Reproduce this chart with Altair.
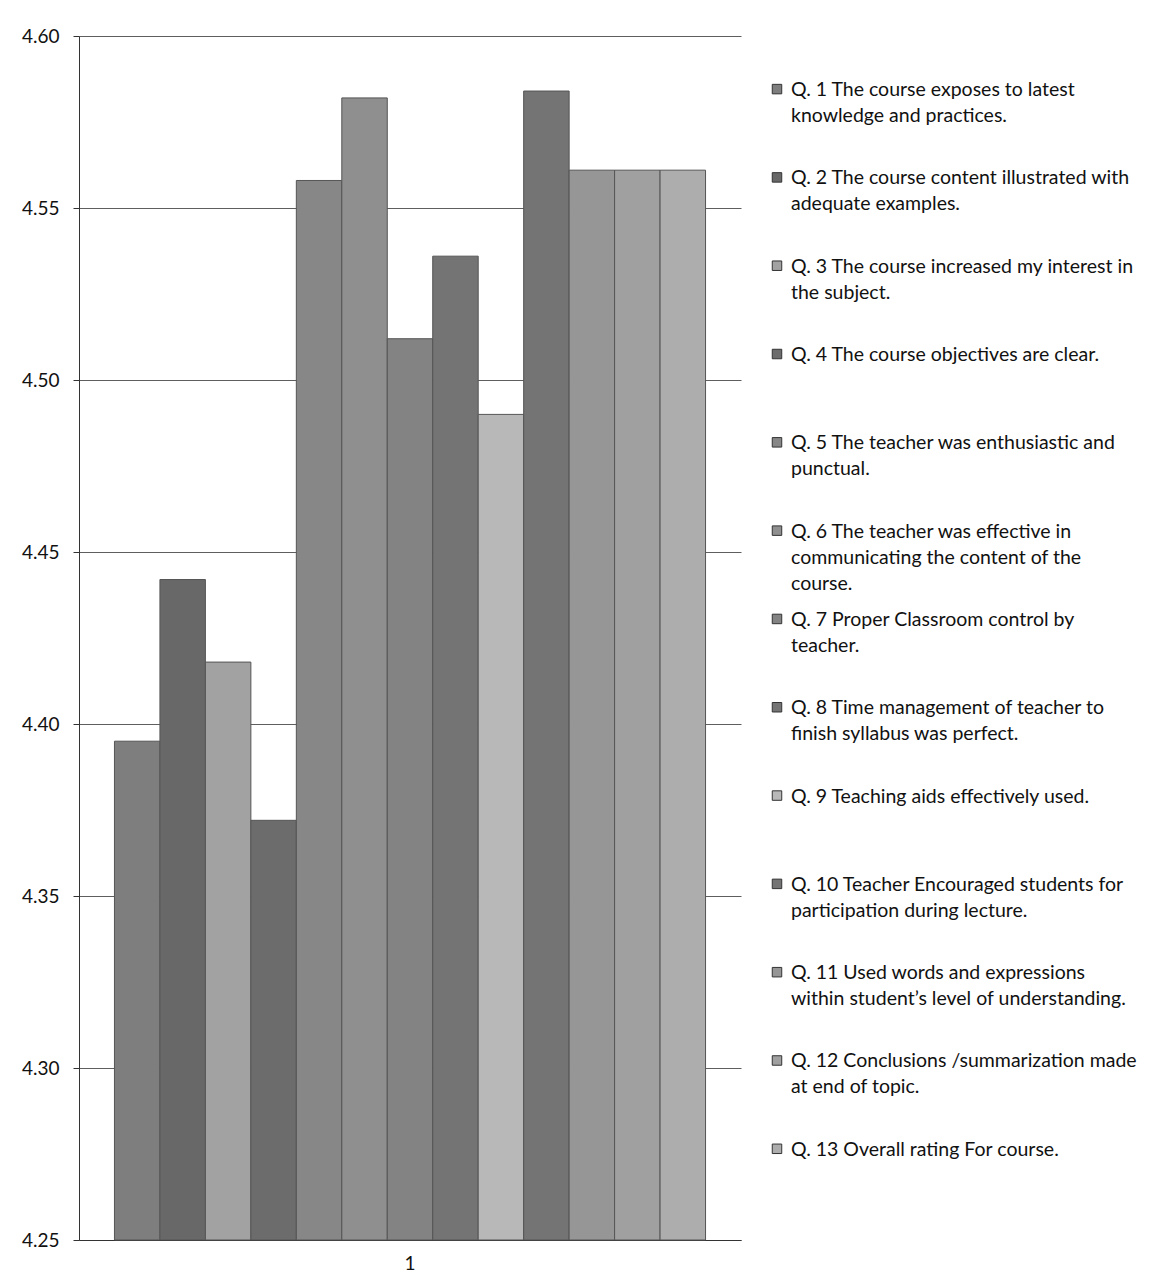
import altair as alt
import pandas as pd

# ---- data ----
category = "1"
questions = [f"Q{i}" for i in range(1, 14)]
scores = [4.395, 4.442, 4.418, 4.372, 4.558, 4.582, 4.512,
          4.536, 4.490, 4.584, 4.561, 4.561, 4.561]
labels = [
    "Q. 1 The course exposes to latest\nknowledge and practices.",
    "Q. 2 The course content illustrated with\nadequate examples.",
    "Q. 3 The course increased my interest in\nthe subject.",
    "Q. 4 The course objectives are clear.",
    "Q. 5 The teacher was enthusiastic and\npunctual.",
    "Q. 6 The teacher was effective in\ncommunicating the content of the\ncourse.",
    "Q. 7 Proper Classroom control by\nteacher.",
    "Q. 8 Time management of teacher to\nfinish syllabus was perfect.",
    "Q. 9 Teaching aids effectively used.",
    "Q. 10 Teacher Encouraged students for\nparticipation during lecture.",
    "Q. 11 Used words and expressions\nwithin student\u2019s level of understanding.",
    "Q. 12 Conclusions /summarization made\nat end of topic.",
    "Q. 13 Overall rating For course.",
]
colors = ["#7e7e7e", "#686868", "#a2a2a2", "#6c6c6c", "#878787", "#8f8f8f",
          "#838383", "#747474", "#b8b8b8", "#747474", "#969696", "#a0a0a0",
          "#adadad"]
y_ticks = [4.25, 4.30, 4.35, 4.40, 4.45, 4.50, 4.55, 4.60]

df = pd.DataFrame({"cat": category, "q": questions, "score": scores, "label": labels})

FONT = "Lato"
color_scale = alt.Scale(domain=questions, range=colors)

bars = alt.Chart(df).mark_bar(stroke="#555555", strokeWidth=1).encode(
    x=alt.X("cat:N", title=None,
            scale=alt.Scale(paddingInner=0, paddingOuter=0.06),
            axis=alt.Axis(labelAngle=0, ticks=False, labelPadding=14,
                          labelFontSize=19, labelFont=FONT, labelColor="#111",
                          domainColor="#333")),
    xOffset=alt.XOffset("q:N", sort=questions,
                        scale=alt.Scale(paddingInner=0, paddingOuter=0)),
    y=alt.Y("score:Q", title=None,
            scale=alt.Scale(domain=[4.25, 4.60], zero=False, nice=False),
            axis=alt.Axis(values=y_ticks, format=".2f", tickSize=6,
                          labelPadding=14, labelFontSize=19, labelFont=FONT,
                          labelColor="#111", domainColor="#333", tickColor="#333",
                          grid=True, gridColor="#5e5e5e", gridWidth=1)),
    y2=alt.datum(4.25),
    color=alt.Color("q:N", scale=color_scale, legend=None),
).properties(width=662, height=1204)

legend_base = alt.Chart(df).encode(
    y=alt.Y("q:N", sort=questions, axis=None,
            scale=alt.Scale(type="point", padding=0.817, align=0.3125)),
)
symbols = legend_base.mark_square(size=90, opacity=1, stroke="#333", strokeWidth=1).encode(
    x=alt.value(6), yOffset=alt.value(8),
    color=alt.Color("q:N", scale=color_scale, legend=None),
)
texts = legend_base.mark_text(align="left", baseline="top", lineBreak="\n",
                              lineHeight=26, fontSize=19.5, font=FONT,
                              color="#111").encode(
    x=alt.value(20), text="label:N",
)
legend = (symbols + texts).properties(width=370, height=1204)

chart = alt.hconcat(bars, legend, spacing=29).properties(
    padding={"left": 13, "top": 19, "right": 5, "bottom": 5}
).configure_view(stroke=None)

chart.save("out.html", embed_options={"renderer": "svg", "actions": False})
